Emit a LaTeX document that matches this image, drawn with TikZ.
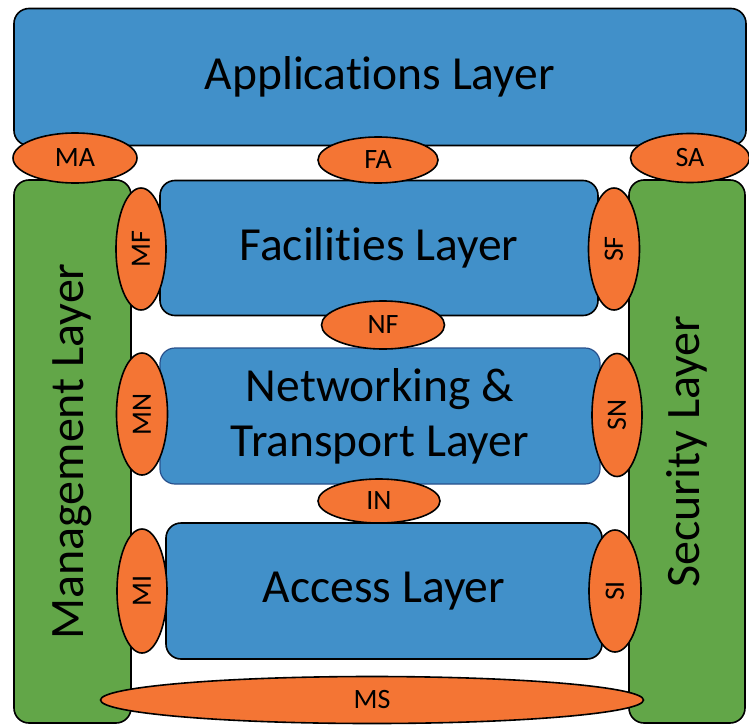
\documentclass[tikz,border=0pt]{standalone}
\usepackage{fontspec}
\setmainfont{Carlito}[Ligatures={NoCommon,NoContextual}]
\usetikzlibrary{shapes.geometric}

\definecolor{layerblue}{RGB}{65,144,201}
\definecolor{layergreen}{RGB}{98,166,72}
\definecolor{ifaceorange}{RGB}{244,117,52}
\definecolor{netborder}{RGB}{40,80,140}

\tikzset{
  layerbox/.style={draw=black, line width=1.6pt, fill=layerblue,
    rounded corners=15pt, inner sep=0pt, font=\fontsize{47.5}{55}\selectfont,
    align=center},
  sidebox/.style={layerbox, fill=layergreen},
  iface/.style={draw=black, line width=1.6pt, fill=ifaceorange, ellipse,
    inner sep=0pt, font=\fontsize{28}{32}\selectfont}
}

\begin{document}
\begin{tikzpicture}[x=1pt,y=-1pt]

  \useasboundingbox (0,0) rectangle (749,725);

  %% layers
  \node[layerbox, minimum width=732pt, minimum height=137pt] (app)
    at (380,77) {Applications Layer};
  \node[sidebox, minimum width=117pt, minimum height=543pt] (mgmt)
    at (72.5,451.5) {};
  \node[sidebox, minimum width=116pt, minimum height=543pt] (sec)
    at (687,451.5) {};
  \node[rotate=90, font=\fontsize{48}{55}\selectfont] (mgmtlabel)
    at (mgmt.center) {Management Layer};
  \node[rotate=90, font=\fontsize{48}{55}\selectfont] (seclabel)
    at (sec.center) {Security Layer};
  \node[layerbox, minimum width=438pt, minimum height=135pt] (fac)
    at (379,248) {Facilities Layer};
  \node[layerbox, draw=netborder, line width=1.2pt, minimum width=440pt,
    minimum height=136pt] (net)
    at (380,416) {Networking \&\\ Transport Layer};
  \node[layerbox, minimum width=436pt, minimum height=136pt] (acc)
    at (384,591) {Access Layer};

  %% interfaces
  \node[iface, minimum width=124pt, minimum height=50pt] (ma) at (75,158) {MA};
  \node[iface, minimum width=120pt, minimum height=46pt] (fa) at (378,160) {FA};
  \node[iface, minimum width=119pt, minimum height=49pt] (sa) at (690,158) {SA};
  \node[iface, minimum width=123pt, minimum height=48pt] (nf) at (383,325) {NF};
  \node[iface, minimum width=122pt, minimum height=44pt] (in) at (379,501) {IN};
  \node[iface, minimum width=543pt, minimum height=47pt] (ms) at (372,700) {MS};

  \node[iface, minimum width=122pt, minimum height=50pt, rotate=90] (mf)
    at (141,249) {MF};
  \node[iface, minimum width=122pt, minimum height=51pt, rotate=90] (sf)
    at (614,249) {SF};
  \node[iface, minimum width=122pt, minimum height=51pt, rotate=90] (mn)
    at (142,414) {MN};
  \node[iface, minimum width=123pt, minimum height=50pt, rotate=90] (sn)
    at (617,415) {SN};
  \node[iface, minimum width=124pt, minimum height=50pt, rotate=90] (mi)
    at (142,591) {MI};
  \node[iface, minimum width=122pt, minimum height=52pt, rotate=90] (si)
    at (615,591) {SI};

\end{tikzpicture}
\end{document}
